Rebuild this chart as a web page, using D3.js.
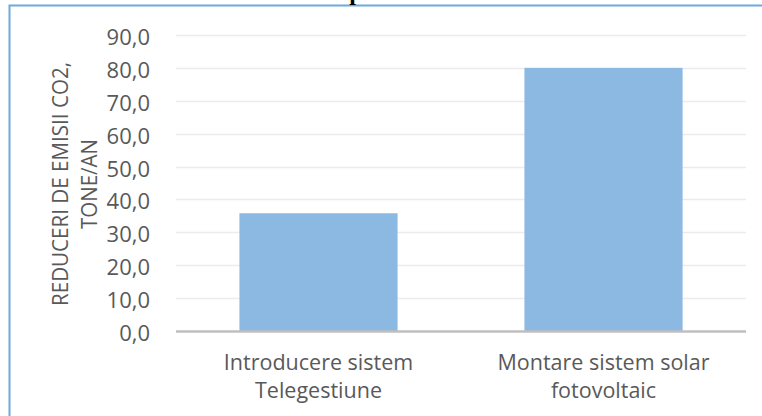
<!DOCTYPE html>
<meta charset="utf-8" />
<script src="https://d3js.org/d3.v7.min.js"></script>
<body style="margin:0;background:#fff">
  <div id="chart"></div>
  <script>
    // chart data
    const categories = [
      ["Introducere sistem", "Telegestiune"],
      ["Montare sistem solar", "fotovoltaic"]
    ];
    const values = [35.8, 80.0];
    const yTicks = [0, 10, 20, 30, 40, 50, 60, 70, 80, 90];
    const yLabel = ["REDUCERI DE EMISII CO2,", "TONE/AN"];

    const W = 762, H = 416;
    const margin = { top: 35, right: 16, bottom: 85, left: 176 };
    const width = W - margin.left - margin.right,
      height = 331 - margin.top;

    const font = "'Open Sans', sans-serif";
    const textColor = "#595959";

    const svg = d3.select("#chart").append("svg")
      .attr("width", W).attr("height", H);

    // outer frame (partly off-screen)
    svg.append("rect")
      .attr("x", 9.5).attr("y", 5.5)
      .attr("width", W + 20).attr("height", H + 20)
      .attr("fill", "none").attr("stroke", "#6fa8dc").attr("stroke-width", 2);

    // clipped title descender
    svg.append("text")
      .attr("x", 356).attr("y", 0)
      .attr("text-anchor", "middle")
      .style("font-family", "'Liberation Serif', serif")
      .style("font-weight", "bold").style("font-size", "24px")
      .text("p");

    const g = svg.append("g")
      .attr("transform", "translate(" + margin.left + "," + margin.top + ")");

    const x = d3.scaleBand()
      .domain(d3.range(categories.length))
      .range([0, width])
      .paddingInner(0.445)
      .paddingOuter(0.2225);

    const y = d3.scaleLinear().domain([0, 90]).range([height, 0]);

    // gridlines
    g.append("g")
      .selectAll("line")
      .data(yTicks.filter(d => d > 0))
      .enter().append("line")
      .attr("x1", 0).attr("x2", width)
      .attr("y1", d => Math.round(y(d)) + 0.5)
      .attr("y2", d => Math.round(y(d)) + 0.5)
      .attr("stroke", "#ececec").attr("stroke-width", 1.5);

    // y axis labels
    const yAxis = g.append("g")
      .attr("transform", "translate(-23,0)")
      .call(d3.axisLeft(y).tickValues(yTicks).tickSize(0)
        .tickFormat(d => d3.format(".1f")(d).replace(".", ",")));
    yAxis.select(".domain").remove();
    yAxis.selectAll("text")
      .attr("fill", textColor)
      .attr("dy", "0.43em")
      .style("font-family", font).style("font-size", "22px");

    // bars
    g.selectAll(".bar")
      .data(values)
      .enter().append("rect")
      .attr("class", "bar")
      .attr("x", (d, i) => x(i))
      .attr("y", d => y(d))
      .attr("width", x.bandwidth())
      .attr("height", d => height - y(d))
      .attr("fill", "#8cb9e2");

    // x axis line
    g.append("line")
      .attr("x1", 0).attr("x2", width)
      .attr("y1", height + 0.5).attr("y2", height + 0.5)
      .attr("stroke", "#bfbfbf").attr("stroke-width", 2.5);

    // category labels
    const cat = g.append("g");
    categories.forEach((lines, i) => {
      const t = cat.append("text")
        .attr("x", x(i) + x.bandwidth() / 2)
        .attr("y", height + 39)
        .attr("text-anchor", "middle")
        .attr("fill", textColor)
        .style("font-family", font).style("font-size", "21.5px");
      lines.forEach((l, j) => {
        t.append("tspan")
          .attr("x", x(i) + x.bandwidth() / 2)
          .attr("dy", j === 0 ? 0 : 28)
          .text(l);
      });
    });

    // y axis title (two lines, condensed to match width)
    const yLens = [244, 90];
    const yt = svg.append("g")
      .attr("transform", "translate(0," + 184 + ") rotate(-90)");
    yLabel.forEach((l, j) => {
      yt.append("text")
        .attr("x", 0)
        .attr("y", 68 + j * 29)
        .attr("text-anchor", "middle")
        .attr("fill", textColor)
        .attr("textLength", yLens[j])
        .attr("lengthAdjust", "spacingAndGlyphs")
        .style("font-family", font).style("font-size", "21px")
        .text(l);
    });
  </script>
</body>
